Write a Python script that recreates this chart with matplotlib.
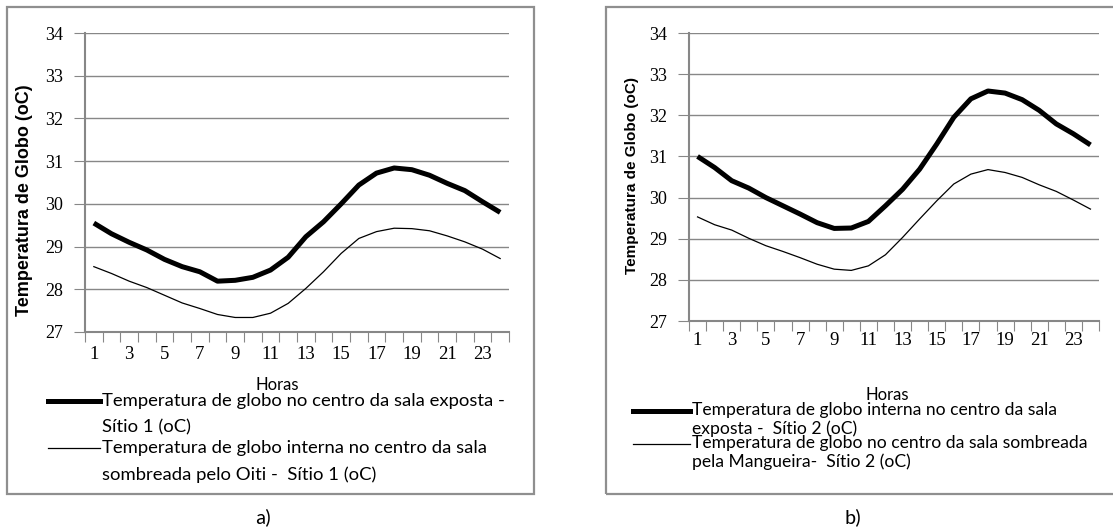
import numpy as np
import matplotlib
matplotlib.use('Agg')
import matplotlib.pyplot as plt
from matplotlib.patches import Rectangle
from matplotlib.lines import Line2D

# Temperatura de globo (oC) ao longo do dia, hora a hora
horas = list(range(1, 25))
exposta_s1 = [29.55, 29.3, 29.1, 28.92, 28.7, 28.53, 28.41, 28.19, 28.21, 28.28, 28.45, 28.75,
              29.23, 29.58, 30.0, 30.44, 30.72, 30.84, 30.8, 30.67, 30.48, 30.31, 30.05, 29.8]
sombreada_s1 = [28.53, 28.37, 28.19, 28.04, 27.86, 27.68, 27.55, 27.41, 27.34, 27.34, 27.44, 27.67,
                28.02, 28.41, 28.84, 29.19, 29.35, 29.43, 29.42, 29.37, 29.25, 29.11, 28.94, 28.72]
exposta_s2 = [31.0, 30.73, 30.41, 30.23, 30.0, 29.8, 29.6, 29.39, 29.25, 29.26, 29.42, 29.8,
              30.2, 30.69, 31.3, 31.95, 32.4, 32.59, 32.54, 32.38, 32.12, 31.79, 31.55, 31.28]
sombreada_s2 = [29.53, 29.34, 29.21, 29.01, 28.83, 28.69, 28.54, 28.38, 28.26, 28.23, 28.34, 28.61,
                29.03, 29.48, 29.92, 30.33, 30.57, 30.68, 30.61, 30.49, 30.31, 30.15, 29.94, 29.72]

valores_y = [27, 28, 29, 30, 31, 32, 33, 34]
rotulos_x = list(range(1, 24, 2))

legenda_s1 = ['Temperatura de globo no centro da sala exposta -\nSítio 1 (oC)',
              'Temperatura de globo interna no centro da sala\nsombreada pelo Oiti -  Sítio 1 (oC)']
legenda_s2 = ['Temperatura de globo interna no centro da sala\nexposta -  Sítio 2 (oC)',
              'Temperatura de globo no centro da sala sombreada\npela Mangueira-  Sítio 2 (oC)']

W, H = 1113, 531
CINZA = '#878787'
fonte_leg = ['Lato', 'DejaVu Sans']


def fx(px):
    return px / W


def fy(py):
    return 1 - py / H


fig = plt.figure(figsize=(W / 100, H / 100), dpi=100)


def painel(caixa, eixo, serie_a, serie_b, legenda, ylab, horas_xy, leg_xy, sub_xy, pad_x, ysize):
    # moldura cinza em volta de cada grafico
    x0, y0, x1, y1 = caixa
    fig.patches.append(Rectangle((fx(x0), fy(y1)), fx(x1) - fx(x0), fy(y0) - fy(y1),
                                 transform=fig.transFigure, fill=False,
                                 edgecolor='#8f8f8f', lw=1.6))
    l, t, r, b = eixo
    ax = fig.add_axes([fx(l), fy(b), fx(r) - fx(l), fy(t) - fy(b)])
    ax.plot(horas, serie_b, color='black', lw=0.9)
    ax.plot(horas, serie_a, color='black', lw=3.6, solid_capstyle='butt')
    ax.set_xlim(0.5, 24.5)
    ax.set_ylim(27, 34)
    ax.set_yticks(valores_y)
    ax.set_yticklabels([str(v) for v in valores_y], family='Liberation Serif', fontsize=13)
    ax.set_xticks(np.arange(0.5, 25, 1))
    ax.set_xticklabels([])
    ax.set_xticks(rotulos_x, minor=True)
    ax.set_xticklabels([str(v) for v in rotulos_x], minor=True,
                       family='Liberation Serif', fontsize=13.5)
    ax.tick_params(axis='x', which='major', length=7, color=CINZA, direction='out')
    ax.tick_params(axis='x', which='minor', length=0, pad=pad_x)
    ax.tick_params(axis='y', length=8, color=CINZA, pad=8)
    ax.grid(axis='y', color=CINZA, lw=1)
    ax.set_axisbelow(True)
    for lado in ['top', 'right']:
        ax.spines[lado].set_visible(False)
    for lado in ['left', 'bottom']:
        ax.spines[lado].set_color(CINZA)
        ax.spines[lado].set_linewidth(1.5)

    fig.text(fx(ylab[0]), fy(ylab[1]), 'Temperatura de Globo (oC)', rotation=90,
             ha='center', va='center', fontweight='bold', family='Liberation Sans',
             fontsize=ysize)
    fig.text(fx(horas_xy[0]), fy(horas_xy[1]), 'Horas', ha='center', va='center',
             family=fonte_leg, fontsize=12)

    # legenda desenhada a mao: traco + texto em duas linhas
    (lx0, lx1, tx), linhas_y, esp, tam = leg_xy
    for texto, yy, lw in zip(legenda, linhas_y, [3.6, 0.9]):
        fig.add_artist(Line2D([fx(lx0), fx(lx1)], [fy(yy), fy(yy)], color='black', lw=lw,
                              transform=fig.transFigure))
        fig.text(fx(tx), fy(yy + esp / 2), texto, ha='left', va='center',
                 family=fonte_leg, fontsize=tam, linespacing=esp / (tam * 1.15))

    fig.text(fx(sub_xy[0]), fy(sub_xy[1]), sub_xy[2], ha='center', va='center',
             family=['Carlito', 'Lato', 'DejaVu Sans'], fontsize=15)
    return ax


painel((7, 7, 534, 494), (85, 33, 509, 332), exposta_s1, sombreada_s1, legenda_s1,
       (25, 200), (277, 385), ((48, 100, 102), [401, 448], 27, 13.3), (263, 517, 'a)'), 10, 13)
painel((606, 7, 1125, 494), (689, 33, 1099, 321), exposta_s2, sombreada_s2, legenda_s2,
       (632, 175), (887, 395), ((633, 690, 692), [411, 444], 17, 12.6), (853, 517, 'b)'), 8, 11)

fig.savefig('out.png', dpi=100)
